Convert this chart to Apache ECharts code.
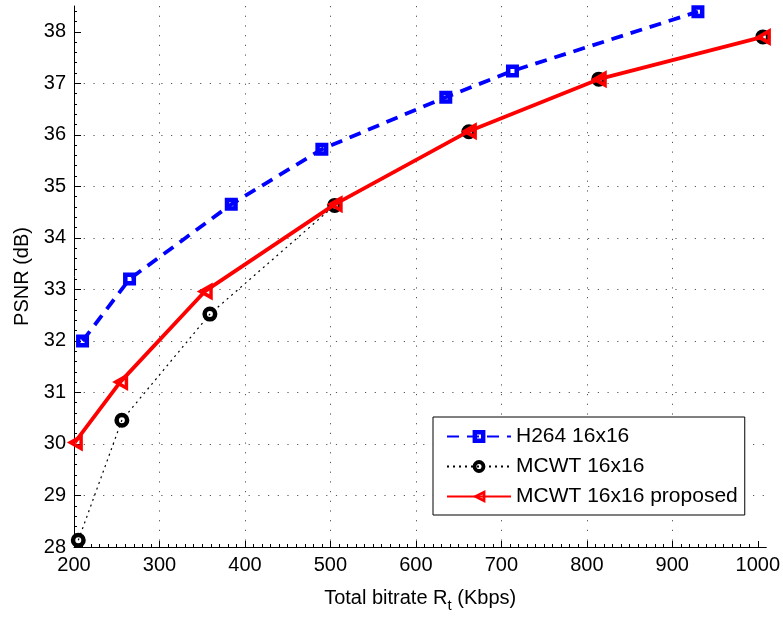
<!DOCTYPE html>
<html>
<head>
<meta charset="utf-8">
<script src="https://cdn.jsdelivr.net/npm/echarts@6/dist/echarts.min.js"></script>
<style>
html,body{margin:0;padding:0;background:#fff;}
#c{width:783px;height:618px;}
</style>
</head>
<body>
<div id="c"></div>
<script>
var seriesNames = ['H264 16x16', 'MCWT 16x16', 'MCWT 16x16 proposed'];
var h264X = [210, 265, 384, 490, 635, 713, 930];
var h264Y = [32.0, 33.2, 34.65, 35.72, 36.73, 37.24, 38.39];
var mcwtX = [205, 256, 359, 505, 662, 814, 1006];
var mcwtY = [28.13, 30.46, 32.52, 34.63, 36.06, 37.08, 37.9];
var propX = [201, 254, 353, 505, 662, 814, 1006];
var propY = [30.03, 31.2, 32.96, 34.65, 36.07, 37.08, 37.9];
var xTicks = [200, 300, 400, 500, 600, 700, 800, 900, 1000];
var yTicks = [28, 29, 30, 31, 32, 33, 34, 35, 36, 37, 38];

function pairs(xs, ys) { return xs.map(function (x, i) { return [x, ys[i]]; }); }

var FONT = '"Liberation Sans", Arial, Helvetica, sans-serif';
var gridLine = { show: true, showMaxLine: false, showMinLine: false,
  lineStyle: { color: '#555', width: 1, type: [1.2, 8.5] } };

var ringSym = 'path://M-1 0A1 1 0 1 1 1 0A1 1 0 1 1 -1 0ZM-0.4 0A0.4 0.4 0 1 0 0.4 0A0.4 0.4 0 1 0 -0.4 0Z';
var squareSym = 'path://M0 0L13 0L13 13L0 13ZM4.5 4.5L4.5 8.5L8.5 8.5L8.5 4.5Z';
var triSym = 'path://M0 7.5L11 0L11 15ZM5.2 7.5L8.6 9.8L8.6 5.2Z';

var chart = echarts.init(document.getElementById('c'), null, { renderer: 'canvas' });
chart.setOption({
  animation: false,
  backgroundColor: '#fff',
  textStyle: { fontFamily: FONT },
  grid: { left: 74, right: 13, top: 6, bottom: 64, containLabel: false },
  legend: {
    orient: 'vertical',
    left: 433, top: 417,
    padding: [9, 7, 8, 13],
    itemGap: 9,
    itemWidth: 64,
    itemHeight: 16,
    borderColor: '#000', borderWidth: 1,
    backgroundColor: '#fff',
    textStyle: { fontSize: 21, color: '#000', fontFamily: FONT },
    data: seriesNames
  },
  xAxis: {
    type: 'value', min: 200, max: 1010, interval: 100,
    name: 'Total bitrate R{sub|t} (Kbps)',
    nameLocation: 'middle', nameGap: 37,
    nameTextStyle: { fontSize: 20, color: '#000', fontFamily: FONT,
      rich: { sub: { fontSize: 15, color: '#000', fontFamily: FONT, padding: [14, 0, 0, 0] } } },
    axisLine: { show: true, onZero: false, lineStyle: { color: '#000', width: 1 } },
    axisTick: { show: true, inside: true, length: 6, customValues: xTicks, lineStyle: { color: '#000' } },
    minorTick: { show: true, splitNumber: 10, length: 3, lineStyle: { color: '#000' } },
    axisLabel: { customValues: xTicks, fontSize: 20, color: '#000', margin: 8, fontFamily: FONT,
      formatter: function (v) { return String(v); } },
    splitLine: gridLine
  },
  yAxis: {
    type: 'value', min: 28, max: 38.5, interval: 1,
    name: 'PSNR (dB)',
    nameLocation: 'middle', nameGap: 37, nameRotate: 90,
    nameTextStyle: { fontSize: 20, color: '#000', fontFamily: FONT },
    axisLine: { show: true, onZero: false, lineStyle: { color: '#000', width: 1 } },
    axisTick: { show: true, inside: true, length: 7, customValues: yTicks, lineStyle: { color: '#000' } },
    minorTick: { show: true, splitNumber: 5, length: 3, lineStyle: { color: '#000' } },
    axisLabel: { customValues: yTicks, fontSize: 20, color: '#000', margin: 8, fontFamily: FONT,
      formatter: function (v) { return String(v); } },
    splitLine: gridLine
  },
  series: [
    {
      name: seriesNames[0], type: 'line', data: pairs(h264X, h264Y),
      symbol: squareSym, symbolSize: 13,
      lineStyle: { color: '#0000ff', width: 3.8, type: [12, 8] },
      itemStyle: { color: '#0000ff', borderWidth: 0 },
      emphasis: { disabled: true },
      z: 3
    },
    {
      name: seriesNames[1], type: 'line', data: pairs(mcwtX, mcwtY),
      symbol: ringSym, symbolSize: 15,
      lineStyle: { color: '#000', width: 1.2, type: [2, 4] },
      itemStyle: { color: '#000', borderWidth: 0 },
      emphasis: { disabled: true },
      z: 4
    },
    {
      name: seriesNames[2], type: 'line', data: pairs(propX, propY),
      symbol: triSym, symbolSize: [16, 18], symbolKeepAspect: false,
      lineStyle: { color: '#ff0000', width: 3.8 },
      itemStyle: { color: '#ff0000', borderWidth: 0 },
      emphasis: { disabled: true },
      z: 5
    }
  ]
});
</script>
</body>
</html>
